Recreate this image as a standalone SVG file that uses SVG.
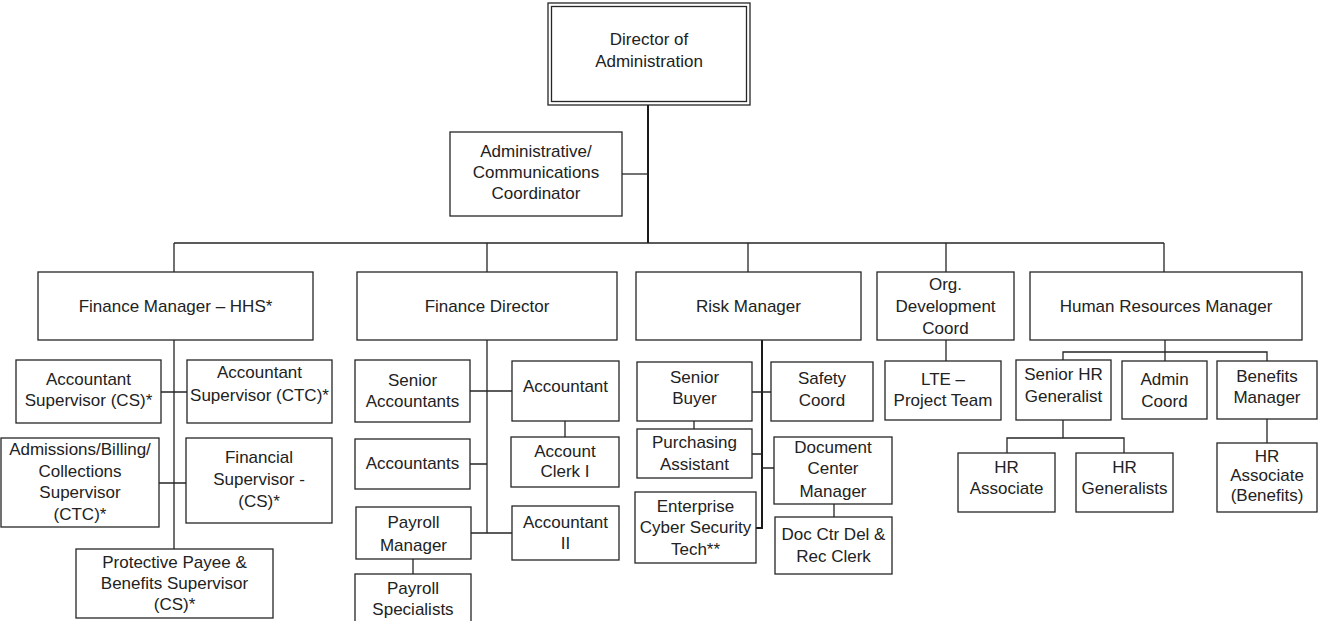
<svg xmlns="http://www.w3.org/2000/svg" width="1318" height="621" viewBox="0 0 1318 621">
<style>
.b{fill:#fff;stroke:#262626;stroke-width:1.3}
.c{fill:none;stroke:#262626;stroke-width:1.3}
.k{fill:none;stroke:#1a1a1a;stroke-width:2}
.t{font-family:"Liberation Sans",Arial,sans-serif;font-size:17px;fill:#222;text-anchor:middle}
</style>
<rect width="1318" height="621" fill="#fff"/>
<g id="connectors">
<path class="k" d="M648,105V243"/>
<path class="c" d="M622,174H648"/>
<path class="c" d="M174,243H1164M174,243V272M487,243V272M748,243V272M946,243V272M1164,243V272"/>
<path class="c" d="M174,340V549M161,392H187M159,483H186"/>
<path class="c" d="M487,340V533M470,391H512M470,464H487M471,533H512M565,421V437M413,559V574"/>
<path class="k" d="M762,340V528H756"/>
<path class="c" d="M752,392H771M752,454H762M762,468H774M694,421V429M834,504V517"/>
<path class="c" d="M946,340V361"/>
<path class="c" d="M1165,340V361M1063,360V352H1267V361M1063,420V438M1007,453V438H1124V453M1267,419V443"/>
</g>
<g id="director">
<rect class="b" x="548" y="3" width="202" height="102"/>
<rect class="c" x="551.5" y="6.5" width="195" height="95"/>
<text class="t"><tspan x="649" y="45">Director of</tspan><tspan x="649" y="67">Administration</tspan></text>
</g>
<g id="admin-comm">
<rect class="b" x="450" y="132" width="172" height="84"/>
<text class="t"><tspan x="536" y="157">Administrative/</tspan><tspan x="536" y="178">Communications</tspan><tspan x="536" y="199">Coordinator</tspan></text>
</g>
<g id="finance-manager">
<rect class="b" x="38" y="272" width="275" height="68"/>
<text class="t" x="175.5" y="312">Finance Manager – HHS*</text>
</g>
<g id="finance-director">
<rect class="b" x="357" y="272" width="260" height="68"/>
<text class="t" x="487" y="312">Finance Director</text>
</g>
<g id="risk-manager">
<rect class="b" x="636" y="272" width="225" height="68"/>
<text class="t" x="748.5" y="312">Risk Manager</text>
</g>
<g id="org-dev">
<rect class="b" x="877" y="272" width="137" height="68"/>
<text class="t"><tspan x="945.5" y="290">Org.</tspan><tspan x="945.5" y="312">Development</tspan><tspan x="945.5" y="334">Coord</tspan></text>
</g>
<g id="hr-manager">
<rect class="b" x="1030" y="272" width="272" height="68"/>
<text class="t" x="1166" y="312">Human Resources Manager</text>
</g>
<g id="acct-sup-cs">
<rect class="b" x="16" y="360" width="145" height="63"/>
<text class="t"><tspan x="88.5" y="385">Accountant</tspan><tspan x="88.5" y="406">Supervisor (CS)*</tspan></text>
</g>
<g id="acct-sup-ctc">
<rect class="b" x="187" y="360" width="145" height="63"/>
<text class="t"><tspan x="259.5" y="378">Accountant</tspan><tspan x="259.5" y="401">Supervisor (CTC)*</tspan></text>
</g>
<g id="admissions">
<rect class="b" x="1" y="438" width="158" height="89"/>
<text class="t"><tspan x="80" y="455">Admissions/Billing/</tspan><tspan x="80" y="477">Collections</tspan><tspan x="80" y="498">Supervisor</tspan><tspan x="80" y="520">(CTC)*</tspan></text>
</g>
<g id="financial-sup">
<rect class="b" x="186" y="438" width="146" height="85"/>
<text class="t"><tspan x="259" y="463">Financial</tspan><tspan x="259" y="485">Supervisor -</tspan><tspan x="259" y="507">(CS)*</tspan></text>
</g>
<g id="protective-payee">
<rect class="b" x="76" y="549" width="197" height="69"/>
<text class="t"><tspan x="174.5" y="568">Protective Payee &amp;</tspan><tspan x="174.5" y="589">Benefits Supervisor</tspan><tspan x="174.5" y="610">(CS)*</tspan></text>
</g>
<g id="senior-accountants">
<rect class="b" x="355" y="360" width="115" height="62"/>
<text class="t"><tspan x="412.5" y="386">Senior</tspan><tspan x="412.5" y="407">Accountants</tspan></text>
</g>
<g id="accountant">
<rect class="b" x="512" y="361" width="107" height="60"/>
<text class="t" x="565.5" y="392">Accountant</text>
</g>
<g id="account-clerk">
<rect class="b" x="511" y="437" width="108" height="50"/>
<text class="t"><tspan x="565" y="457">Account</tspan><tspan x="565" y="477">Clerk I</tspan></text>
</g>
<g id="accountants">
<rect class="b" x="355" y="439" width="115" height="50"/>
<text class="t" x="412.5" y="469">Accountants</text>
</g>
<g id="payroll-manager">
<rect class="b" x="356" y="507" width="115" height="52"/>
<text class="t"><tspan x="413.5" y="528">Payroll</tspan><tspan x="413.5" y="551">Manager</tspan></text>
</g>
<g id="accountant-ii">
<rect class="b" x="512" y="506" width="107" height="54"/>
<text class="t"><tspan x="565.5" y="528">Accountant</tspan><tspan x="565.5" y="549">II</tspan></text>
</g>
<g id="payroll-specialists">
<rect class="b" x="355" y="574" width="116" height="60"/>
<text class="t"><tspan x="413" y="594">Payroll</tspan><tspan x="413" y="615">Specialists</tspan></text>
</g>
<g id="senior-buyer">
<rect class="b" x="637" y="362" width="115" height="59"/>
<text class="t"><tspan x="694.5" y="383">Senior</tspan><tspan x="694.5" y="404">Buyer</tspan></text>
</g>
<g id="safety-coord">
<rect class="b" x="771" y="362" width="102" height="59"/>
<text class="t"><tspan x="822" y="384">Safety</tspan><tspan x="822" y="406">Coord</tspan></text>
</g>
<g id="purchasing-assistant">
<rect class="b" x="637" y="429" width="115" height="49"/>
<text class="t"><tspan x="694.5" y="448">Purchasing</tspan><tspan x="694.5" y="470">Assistant</tspan></text>
</g>
<g id="document-center-manager">
<rect class="b" x="774" y="437" width="118" height="67"/>
<text class="t"><tspan x="833" y="453">Document</tspan><tspan x="833" y="474">Center</tspan><tspan x="833" y="497">Manager</tspan></text>
</g>
<g id="doc-ctr-clerk">
<rect class="b" x="775" y="517" width="117" height="57"/>
<text class="t"><tspan x="833.5" y="540">Doc Ctr Del &amp;</tspan><tspan x="833.5" y="562">Rec Clerk</tspan></text>
</g>
<g id="cyber-security">
<rect class="b" x="635" y="492" width="121" height="71"/>
<text class="t"><tspan x="695.5" y="512">Enterprise</tspan><tspan x="695.5" y="533">Cyber Security</tspan><tspan x="695.5" y="555">Tech**</tspan></text>
</g>
<g id="lte-project-team">
<rect class="b" x="885" y="361" width="116" height="59"/>
<text class="t"><tspan x="943" y="385">LTE –</tspan><tspan x="943" y="406">Project Team</tspan></text>
</g>
<g id="senior-hr-generalist">
<rect class="b" x="1016" y="360" width="95" height="60"/>
<text class="t"><tspan x="1063.5" y="380">Senior HR</tspan><tspan x="1063.5" y="402">Generalist</tspan></text>
</g>
<g id="admin-coord">
<rect class="b" x="1122" y="361" width="85" height="58"/>
<text class="t"><tspan x="1164.5" y="385">Admin</tspan><tspan x="1164.5" y="407">Coord</tspan></text>
</g>
<g id="benefits-manager">
<rect class="b" x="1217" y="361" width="100" height="58"/>
<text class="t"><tspan x="1267" y="382">Benefits</tspan><tspan x="1267" y="403">Manager</tspan></text>
</g>
<g id="hr-associate">
<rect class="b" x="958" y="453" width="97" height="59"/>
<text class="t"><tspan x="1006.5" y="473">HR</tspan><tspan x="1006.5" y="494">Associate</tspan></text>
</g>
<g id="hr-generalists">
<rect class="b" x="1076" y="453" width="97" height="59"/>
<text class="t"><tspan x="1124.5" y="473">HR</tspan><tspan x="1124.5" y="494">Generalists</tspan></text>
</g>
<g id="hr-associate-benefits">
<rect class="b" x="1217" y="443" width="100" height="69"/>
<text class="t"><tspan x="1267" y="462">HR</tspan><tspan x="1267" y="481">Associate</tspan><tspan x="1267" y="501">(Benefits)</tspan></text>
</g>
</svg>
